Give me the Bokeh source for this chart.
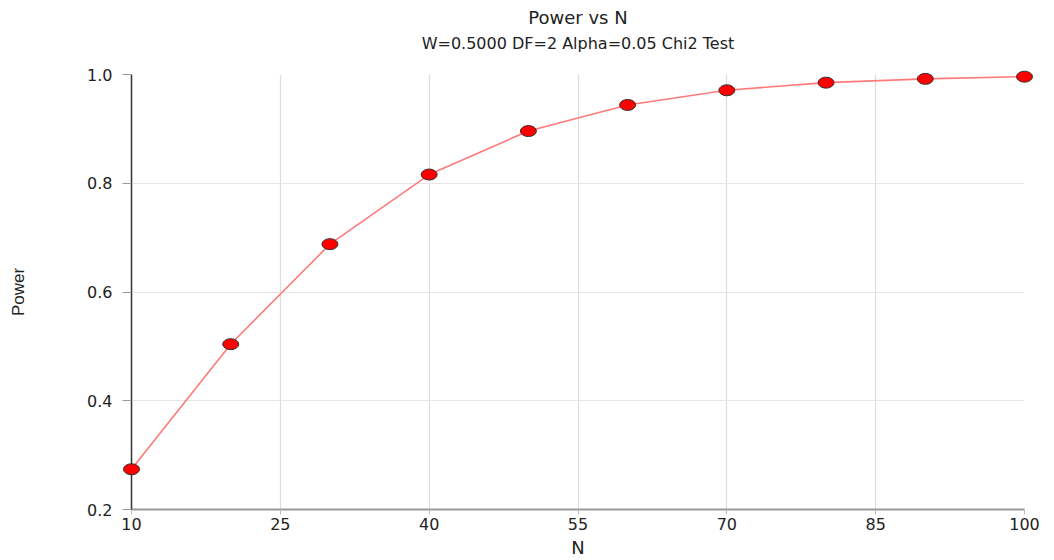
from bokeh.plotting import figure
from bokeh.models import Range1d, FixedTicker, Title, ColumnDataSource, NumeralTickFormatter
from bokeh.embed import file_html
from bokeh.resources import INLINE

n_values = [10, 20, 30, 40, 50, 60, 70, 80, 90, 100]
power_values = [0.274, 0.504, 0.688, 0.816, 0.896, 0.944, 0.971, 0.985, 0.992, 0.996]
x_ticks = [10, 25, 40, 55, 70, 85, 100]
y_ticks = [0.2, 0.4, 0.6, 0.8, 1.0]
title_text = "Power vs N"
subtitle_text = "W=0.5000 DF=2 Alpha=0.05 Chi2 Test"

FONT = "DejaVu Sans"

src = ColumnDataSource(dict(n=n_values, power=power_values))

p = figure(width=1054, height=560, output_backend="svg", toolbar_location=None,
           x_range=Range1d(10, 100), y_range=Range1d(0.2, 1.0),
           min_border_left=131, min_border_right=30, min_border_bottom=51, min_border_top=74)
p.outline_line_color = None
p.background_fill_color = "white"
p.border_fill_color = "white"

spacer = Title(text=" ", text_font=FONT, text_font_size="14px", standoff=0)
sub = Title(text=subtitle_text, align="center", text_font=FONT, text_font_size="16px",
            text_font_style="normal", text_color="#222222", standoff=8)
main = Title(text=title_text, align="center", text_font=FONT, text_font_size="18px",
             text_font_style="normal", text_color="#222222", standoff=0)
p.add_layout(spacer, "above")
p.add_layout(sub, "above")
p.add_layout(main, "above")

p.xaxis.ticker = FixedTicker(ticks=x_ticks)
p.yaxis.ticker = FixedTicker(ticks=y_ticks)
p.yaxis.formatter = NumeralTickFormatter(format="0.0")

p.xaxis.axis_label = "N"
p.yaxis.axis_label = "Power"
for ax in (p.xaxis, p.yaxis):
    ax.major_label_text_font = FONT
    ax.major_label_text_font_size = "16px"
    ax.major_label_text_color = "#222222"
    ax.axis_label_text_font_style = "normal"
    ax.axis_label_text_color = "#222222"
    ax.minor_tick_line_color = None
    ax.major_tick_in = 0

p.xaxis.axis_label_text_font = FONT
p.xaxis.axis_label_text_font_size = "18px"
p.xaxis.axis_line_color = "#999999"
p.xaxis.axis_line_width = 2
p.xaxis.major_tick_line_color = "#bbbbbb"
p.xaxis.major_tick_out = 5
p.xaxis.major_label_standoff = 3
p.xaxis.axis_label_standoff = 4

p.yaxis.axis_label_text_font = "Liberation Sans"
p.yaxis.axis_label_text_font_size = "17px"
p.yaxis.axis_line_color = "#333333"
p.yaxis.axis_line_width = 1.5
p.yaxis.major_tick_line_color = "#999999"
p.yaxis.major_tick_out = 9
p.yaxis.major_label_standoff = 10
p.yaxis.axis_label_standoff = 56

p.xgrid.grid_line_color = "#dddddd"
p.ygrid.grid_line_color = "#e6e6e6"
p.xgrid.grid_line_width = 1.2

p.line("n", "power", source=src, line_color="#ff7a7a", line_width=1.6)
r = p.ellipse("n", "power", source=src, width=16, height=11, width_units="screen",
              height_units="screen", fill_color="#ff0000", line_color="#333333", line_width=1)
r.level = "overlay"

open("out.html", "w").write(file_html(p, INLINE))
